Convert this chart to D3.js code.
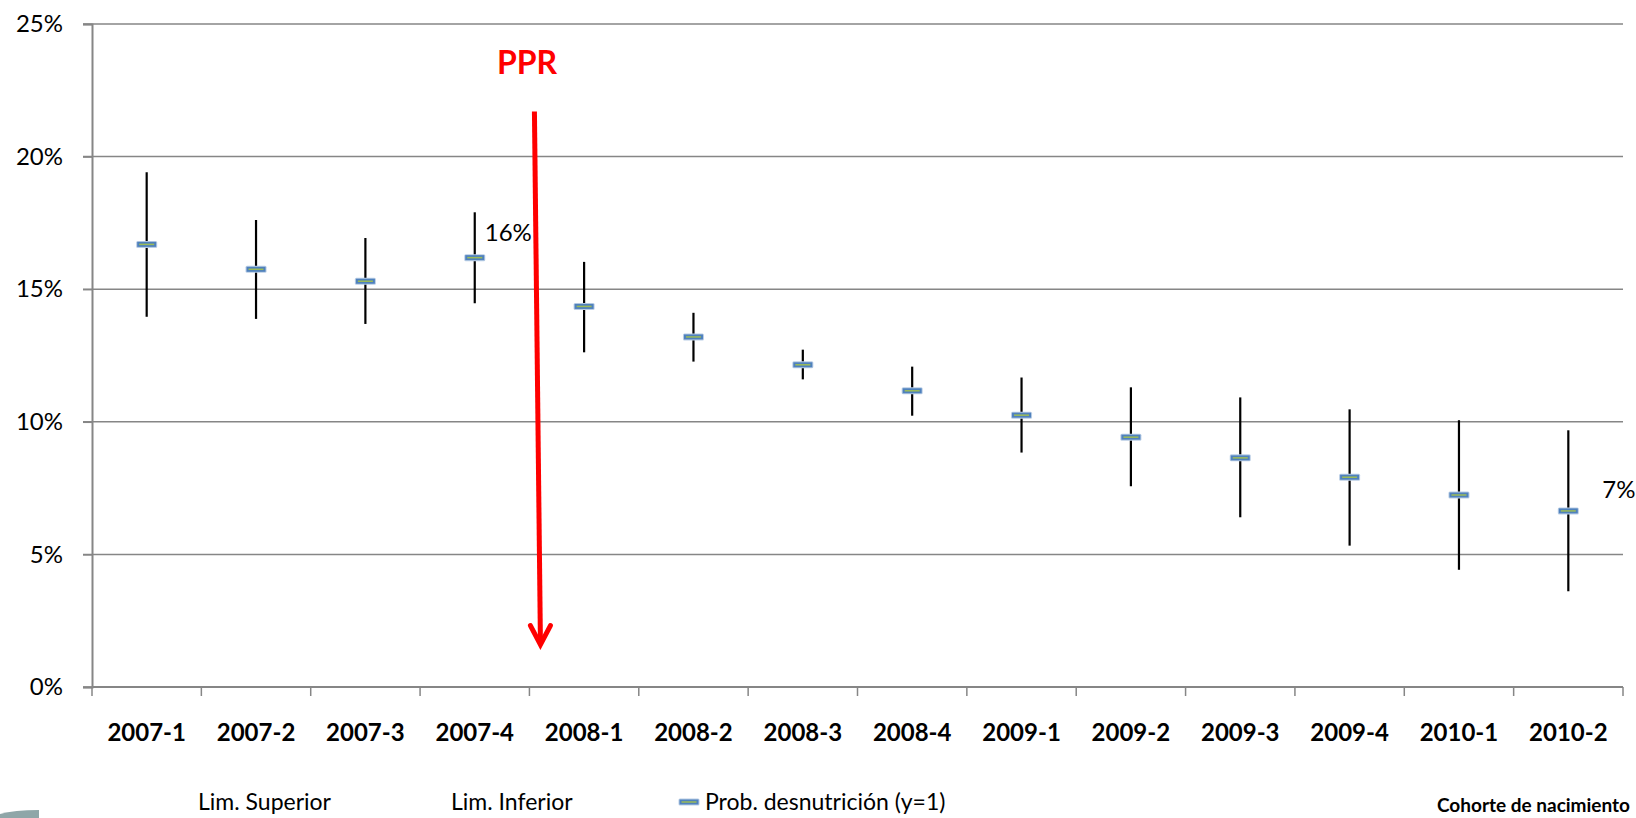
<!DOCTYPE html>
<html>
<head>
<meta charset="utf-8">
<script src="https://cdn.jsdelivr.net/npm/d3@7"></script>
<style>
	body { margin: 0; background: #fff; }
	svg { display: block; font-family: Lato, "Open Sans", sans-serif; }
</style>
</head>
<body>
<div id="visHolder"></div>
<script>
const categories = ["2007-1", "2007-2", "2007-3", "2007-4", "2008-1", "2008-2", "2008-3",
	"2008-4", "2009-1", "2009-2", "2009-3", "2009-4", "2010-1", "2010-2"];
const probDesnutricion = [0.1669, 0.1575, 0.1530, 0.1619, 0.1435, 0.1320, 0.1215,
	0.1117, 0.1025, 0.0942, 0.0864, 0.0791, 0.0724, 0.0664];
const limSuperior = [0.1941, 0.1761, 0.1693, 0.1790, 0.1603, 0.1411, 0.1272,
	0.1208, 0.1167, 0.1130, 0.1092, 0.1047, 0.1006, 0.0968];
const limInferior = [0.1396, 0.1388, 0.1369, 0.1447, 0.1262, 0.1227, 0.1160,
	0.1023, 0.0884, 0.0757, 0.0640, 0.0533, 0.0442, 0.0361];
const yTicks = [0, 0.05, 0.1, 0.15, 0.2, 0.25];
const labelled = [3, 13];
const legendItems = ["Lim. Superior", "Lim. Inferior", "Prob. desnutrición (y=1)"];

const width = 1636;
const height = 818;
const plot = { left: 92, right: 1623, top: 24, bottom: 687 };
const gridColor = "#868686";

const svg = d3.select("#visHolder")
	.append("svg")
	.attr("width", width)
	.attr("height", height);

const x = d3.scaleBand().domain(categories).range([plot.left, plot.right]);
const y = d3.scaleLinear().domain([0, 0.25]).range([plot.bottom, plot.top]);

const rows = categories.map((c, i) => ({
	cat: c,
	prob: probDesnutricion[i],
	sup: limSuperior[i],
	inf: limInferior[i],
}));

// gridlines
svg.append("g")
	.selectAll("line")
	.data(yTicks)
	.join("line")
	.attr("x1", plot.left - 9)
	.attr("x2", plot.right)
	.attr("y1", (d) => y(d))
	.attr("y2", (d) => y(d))
	.attr("stroke", gridColor)
	.attr("stroke-width", 1.5);

// y axis
const yAxis = svg.append("g")
	.attr("transform", `translate(${plot.left},0)`)
	.call(d3.axisLeft(y).tickValues(yTicks).tickFormat(d3.format(".0%")).tickSize(9).tickPadding(20));
yAxis.select(".domain").attr("stroke", gridColor).attr("stroke-width", 2);
yAxis.selectAll(".tick line").attr("stroke", gridColor).attr("stroke-width", 1.5);
yAxis.selectAll(".tick text")
	.attr("font-size", 24)
	.attr("font-family", "Lato, 'Open Sans', sans-serif")
	.attr("fill", "#000");

// x axis
const xAxis = svg.append("g")
	.attr("transform", `translate(0,${plot.bottom})`)
	.call(d3.axisBottom(x).tickSize(0).tickPadding(37));
xAxis.select(".domain").remove();
xAxis.selectAll(".tick text")
	.attr("font-size", 24)
	.attr("font-weight", "bold")
	.attr("font-family", "Lato, 'Open Sans', sans-serif")
	.attr("fill", "#000");

svg.append("line")
	.attr("x1", plot.left)
	.attr("x2", plot.right)
	.attr("y1", plot.bottom)
	.attr("y2", plot.bottom)
	.attr("stroke", gridColor)
	.attr("stroke-width", 2);

const boundaries = [...categories.map((c) => x(c)), plot.right];
svg.append("g")
	.selectAll("line")
	.data(boundaries)
	.join("line")
	.attr("x1", (d) => d)
	.attr("x2", (d) => d)
	.attr("y1", plot.bottom)
	.attr("y2", plot.bottom + 9)
	.attr("stroke", gridColor)
	.attr("stroke-width", 1.5);

// error bars
const cx = (d) => x(d.cat) + x.bandwidth() / 2;
svg.append("g")
	.selectAll("line")
	.data(rows)
	.join("line")
	.attr("x1", cx)
	.attr("x2", cx)
	.attr("y1", (d) => y(d.sup))
	.attr("y2", (d) => y(d.inf))
	.attr("stroke", "#000")
	.attr("stroke-width", 2.2);

// dash markers
function drawMarker(g, mx, my) {
	g.append("rect")
		.attr("x", mx - 10.5)
		.attr("y", my - 3.5)
		.attr("width", 21)
		.attr("height", 7)
		.attr("rx", 1.5)
		.attr("fill", "#b9cde5");
	g.append("rect")
		.attr("x", mx - 9.5)
		.attr("y", my - 2.5)
		.attr("width", 19)
		.attr("height", 5)
		.attr("fill", "#4f81bd");
	g.append("rect")
		.attr("x", mx - 7.5)
		.attr("y", my - 0.75)
		.attr("width", 15)
		.attr("height", 1.5)
		.attr("fill", "#9bbb59");
}
const markers = svg.append("g");
rows.forEach((d) => drawMarker(markers, cx(d), y(d.prob)));

// data labels
const labelOffsets = { 3: [10, -17], 13: [34, -13] };
svg.append("g")
	.selectAll("text")
	.data(labelled)
	.join("text")
	.attr("x", (i) => cx(rows[i]) + labelOffsets[i][0])
	.attr("y", (i) => y(rows[i].prob) + labelOffsets[i][1])
	.attr("font-size", 24)
	.attr("fill", "#000")
	.text((i) => d3.format(".0%")(rows[i].prob));

// PPR annotation
const arrowX0 = x("2008-1") + 5;
const arrowX1 = x("2008-1") + 11;
const arrowY0 = y(0.217);
const arrowY1 = y(0.016);
svg.append("line")
	.attr("x1", arrowX0)
	.attr("y1", arrowY0)
	.attr("x2", arrowX1)
	.attr("y2", arrowY1 - 3)
	.attr("stroke", "#ff0000")
	.attr("stroke-width", 5);
svg.append("polyline")
	.attr("points", [[arrowX1 - 10, arrowY1 - 19], [arrowX1, arrowY1], [arrowX1 + 10, arrowY1 - 19]].join(" "))
	.attr("fill", "none")
	.attr("stroke", "#ff0000")
	.attr("stroke-width", 5)
	.attr("stroke-linecap", "round")
	.attr("stroke-linejoin", "miter");
svg.append("text")
	.attr("x", 527)
	.attr("y", 74)
	.attr("text-anchor", "middle")
	.attr("font-size", 32)
	.attr("font-weight", "bold")
	.attr("fill", "#ff0000")
	.text("PPR");

// legend
const legendX = [198, 451, 705];
const legend = svg.append("g");
legendItems.forEach((t, i) => {
	legend.append("text")
		.attr("x", legendX[i])
		.attr("y", 810)
		.attr("font-size", 23)
		.attr("fill", "#000")
		.text(t);
});
drawMarker(legend, 689, 802);

svg.append("text")
	.attr("x", 1630)
	.attr("y", 812)
	.attr("text-anchor", "end")
	.attr("font-size", 19)
	.attr("font-weight", "bold")
	.attr("fill", "#000")
	.text("Cohorte de nacimiento");

// partial decoration at bottom-left corner
svg.append("path")
	.attr("d", "M0,818 L0,814 Q14,810 39,810 L39,818 Z")
	.attr("fill", "#8fa6a8");
</script>
</body>
</html>
